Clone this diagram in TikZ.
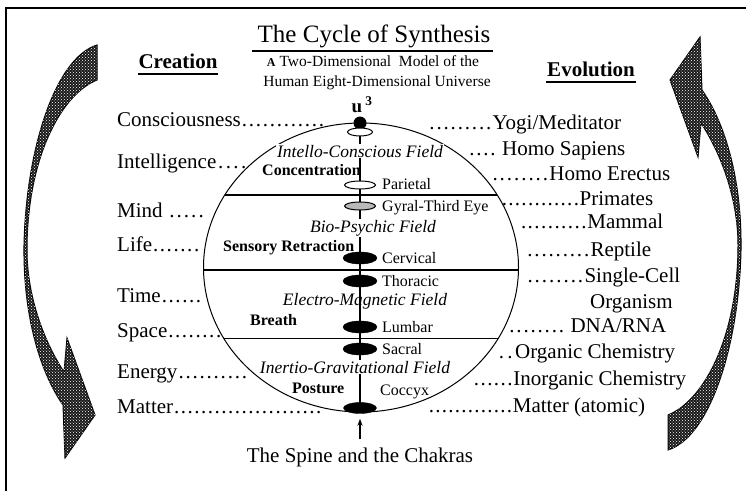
\documentclass[tikz,border=0pt]{standalone}
\usepackage{fontspec}
\setmainfont{Liberation Serif}
\usetikzlibrary{shapes.geometric,arrows.meta,patterns}
\newcommand\myleader{\xleaders\hbox to 6.5pt{\hss.\hss}\hfill}
\begin{document}
\begin{tikzpicture}[x=1pt,y=-1pt,
  lbl/.style={font=\fontsize{21}{24}\selectfont, anchor=base west, inner sep=0pt},
  head/.style={font=\bfseries\fontsize{21}{24}\selectfont, anchor=base, inner sep=0pt},
  field/.style={font=\itshape\fontsize{17.5}{20}\selectfont, anchor=base, inner sep=1pt, fill=white},
  tech/.style={font=\bfseries\fontsize{16}{18}\selectfont, anchor=base west, inner sep=0pt},
  clbl/.style={font=\fontsize{16}{18}\selectfont, anchor=base west, inner sep=0pt},
  chakra/.style={ellipse, draw=black, fill=black, inner sep=0pt, minimum width=34pt, minimum height=12pt},
  openchakra/.style={ellipse, draw=black, line width=1pt, fill=white, inner sep=0pt, minimum width=28pt, minimum height=8pt},
  bigarrow/.pic={
    \path[fill=black!90, draw=black, line width=1pt,
          postaction={pattern=crosshatch dots, pattern color=white}]
      (97,45) .. controls (55,58) and (26,150) .. (24,245)
      .. controls (23,320) and (42,375) .. (63,405)
      -- (65,458) -- (95,415) -- (67,338) -- (64,372)
      .. controls (40,335) and (27,290) .. (27,250)
      .. controls (27,160) and (60,95) .. (97,80) -- cycle;
  }
]
\useasboundingbox (0,0) rectangle (746,491);
\fill[white] (0,0) rectangle (746,491);

% frame
\draw[line width=2pt] (6,491) -- (6,8) -- (746,8);

% big arrows
\pic at (0,0) {bigarrow};
\pic[rotate=180] at (765,495) {bigarrow};

% title
\node[font=\fontsize{25}{28}\selectfont, anchor=base, inner sep=0pt] (title) at (374,42) {The Cycle of Synthesis};
\draw[line width=2pt] (252,51) -- (493,51);
\node[font=\fontsize{15.5}{18}\selectfont, anchor=base, inner sep=0pt] (sub1) at (373,66) {{\fontsize{12}{14}\selectfont\bfseries A} Two-Dimensional\ \ Model of the};
\node[font=\fontsize{15.5}{18}\selectfont, anchor=base, inner sep=0pt] (sub2) at (377,86) {Human Eight-Dimensional Universe};

\node[head] (creation) at (178,68) {Creation};
\draw[line width=2pt] (138,74) -- (218,74);
\node[head] (evolution) at (591,76) {Evolution};
\draw[line width=2pt] (546,82) -- (636,82);

% globe
\draw[line width=1pt] (361,267.5) ellipse [x radius=157.5pt, y radius=144.5pt];
\begin{scope}
  \clip (361,267.5) ellipse [x radius=157.5pt, y radius=144.5pt];
  \draw[line width=2pt] (150,195) -- (560,195);
  \draw[line width=2pt] (150,270) -- (560,270);
  \draw[line width=1pt] (150,338) -- (560,338);
\end{scope}

% spine
\coordinate (spinetop) at (360,123);
\coordinate (spinebot) at (360,408);
\draw[line width=1.3pt] (spinetop) -- (spinebot);

% fields
\node[field] (f1) at (360,157) {Intello-Conscious Field};
\node[field] (f2) at (373,232) {Bio-Psychic Field};
\node[field, fill=none] (f3) at (365,305) {Electro-Magnetic Field};
\node[field] (f4) at (355,373) {Inertio-Gravitational Field};

% techniques
\node[tech] (t1) at (262,175) {Concentration};
\node[tech] (t2) at (223,251) {Sensory Retraction};
\node[tech] (t3) at (250,325) {Breath};
\node[tech] (t4) at (292,393) {Posture};

% chakras
\node[circle, fill=black, inner sep=0pt, minimum size=13pt] (crown) at (360,123) {};
\node[font=\bfseries\fontsize{19}{20}\selectfont, anchor=base, inner sep=0pt] (u3) at (362,112) {u\,\textsuperscript{3}};
\node[openchakra, minimum width=25pt] (halo) at (360,132) {};
\node[openchakra, minimum width=31pt] (pari) at (360,185) {};
\node[ellipse, draw=black, line width=1pt, fill=gray!55, inner sep=0pt, minimum width=31pt, minimum height=8pt] (gyral) at (360,206) {};
\node[chakra] (cerv) at (360,258) {};
\node[chakra] (thor) at (360,281) {};
\node[chakra] (lumb) at (360,327) {};
\node[chakra] (sacr) at (360,349) {};
\node[chakra, minimum width=33pt, minimum height=11pt] (cocc) at (360,408) {};

\node[clbl] (lpari) at (382,189) {Parietal};
\node[clbl] (lgyr) at (382,211) {Gyral-Third Eye};
\node[clbl] (lcerv) at (382,263) {Cervical};
\node[clbl] (lthor) at (382,286) {Thoracic};
\node[clbl] (llumb) at (382,332) {Lumbar};
\node[clbl] (lsacr) at (382,354) {Sacral};
\node[clbl] (lcocc) at (380,395) {Coccyx};

% caption and arrow
\node[font=\fontsize{21}{24}\selectfont, anchor=base, inner sep=0pt] (caption) at (360,462) {The Spine and the Chakras};
\draw[line width=1.3pt, -{Stealth[length=7pt,width=5pt]}, shorten <=8pt, shorten >=5pt] (caption.north) -- (cocc.south);

% left labels
\node[lbl] (consc) at (117,126) {\hbox to 208pt{Consciousness\myleader}};
\node[lbl] (intel) at (117,168) {\hbox to 131pt{Intelligence\myleader}};
\node[lbl] (mind)  at (117,217) {\hbox to 88pt{Mind\ \myleader}};
\node[lbl] (life)  at (117,251) {\hbox to 83pt{Life\myleader}};
\node[lbl] (time)  at (117,302) {\hbox to 85pt{Time\myleader}};
\node[lbl] (space) at (117,337) {\hbox to 105pt{Space\myleader}};
\node[lbl] (energy) at (117,378) {\hbox to 131pt{Energy\myleader}};
\node[lbl] (matter) at (117,413) {\hbox to 205pt{Matter\myleader}};

% right labels
\node[lbl] (yogi)  at (428,129) {\hbox to 193pt{\myleader Yogi/Meditator}};
\node[lbl] (sap)   at (468,155) {\hbox to 157pt{\myleader\ Homo Sapiens}};
\node[lbl] (erect) at (491,180) {\hbox to 179pt{\myleader Homo Erectus}};
\node[lbl] (prim)  at (501,205) {\hbox to 152pt{\myleader Primates}};
\node[lbl] (mamm)  at (520,228) {\hbox to 143pt{\myleader Mammal}};
\node[lbl] (rept)  at (526,256) {\hbox to 125pt{\myleader Reptile}};
\node[lbl] (cell)  at (526,282) {\hbox to 154pt{\myleader Single-Cell}};
\node[lbl] (org)   at (590,308) {Organism};
\node[lbl] (dna)   at (508,332) {\hbox to 158pt{\myleader\ DNA/RNA}};
\node[lbl] (orgch) at (496,358) {\hbox to 179pt{\myleader Organic Chemistry}};
\node[lbl] (inorg) at (473,385) {\hbox to 213pt{\myleader Inorganic Chemistry}};
\node[lbl] (atom)  at (428,412) {\hbox to 217pt{\myleader Matter (atomic)}};
\end{tikzpicture}
\end{document}
